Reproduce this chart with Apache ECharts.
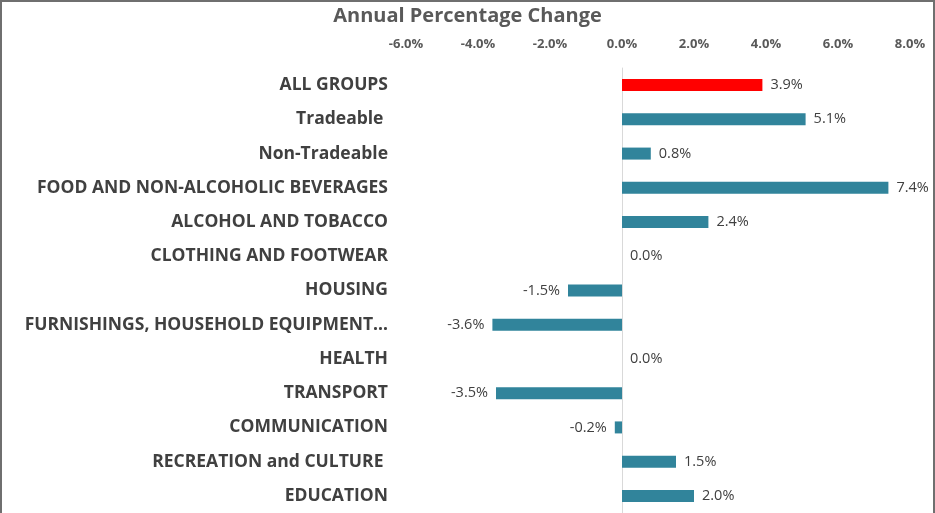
<!DOCTYPE html>
<html><head><meta charset="utf-8">
<script src="https://cdn.jsdelivr.net/npm/echarts@6/dist/echarts.min.js"></script>
<style>
html,body{margin:0;padding:0;background:#fff;}
#c{width:935px;height:513px;box-sizing:border-box;border-left:2px solid #6f6f6f;border-top:2px solid #6f6f6f;border-right:2px solid #6f6f6f;}
</style></head>
<body><div id="c"></div>
<script>
const categories = ["ALL GROUPS","Tradeable ","Non-Tradeable","FOOD AND NON-ALCOHOLIC BEVERAGES","ALCOHOL AND TOBACCO","CLOTHING AND FOOTWEAR","HOUSING","FURNISHINGS, HOUSEHOLD EQUIPMENT…","HEALTH","TRANSPORT","COMMUNICATION","RECREATION and CULTURE ","EDUCATION"];
const values = [3.9,5.1,0.8,7.4,2.4,0.0,-1.5,-3.6,0.0,-3.5,-0.2,1.5,2.0];
const tickMin = -6, tickMax = 8, tickStep = 2;
const FONT = '"Open Sans", "Liberation Sans", Arial, sans-serif';
const chart = echarts.init(document.getElementById('c'), null, {renderer:'canvas'});
chart.setOption({
  animation:false,
  title:{text:'Annual Percentage Change', left:'center', top:-1,
    textStyle:{fontFamily:FONT,fontSize:20,fontWeight:'bold',color:'#595959'}},
  grid:{left:404, right:23, top:66, bottom:0, containLabel:false},
  xAxis:{type:'value', position:'top', min:tickMin, max:tickMax, interval:tickStep,
    axisLine:{show:false}, axisTick:{show:false}, splitLine:{show:false},
    axisLabel:{margin:17, fontFamily:FONT, fontSize:13, fontWeight:'bold', color:'#595959',
      formatter:v=>v.toFixed(1)+'%'}},
  yAxis:{type:'category', data:categories, inverse:true,
    axisLine:{show:true, onZero:true, lineStyle:{color:'#d9d9d9', width:1}},
    axisTick:{show:false},
    axisLabel:{margin:18, fontFamily:FONT, fontSize:17.5, fontWeight:'bold', color:'#404040'}},
  series:[{type:'bar', barWidth:12,
    data: values.map((v,i)=>({value:v,
      itemStyle:{color: i===0 ? '#ff0000' : '#31849b'},
      label:{position: v<0 ? 'left' : 'right'}})),
    label:{show:true, distance:8, fontFamily:FONT, fontSize:14.5, color:'#404040',
      formatter:p=>p.value.toFixed(1)+'%'}}]
});
</script></body></html>
